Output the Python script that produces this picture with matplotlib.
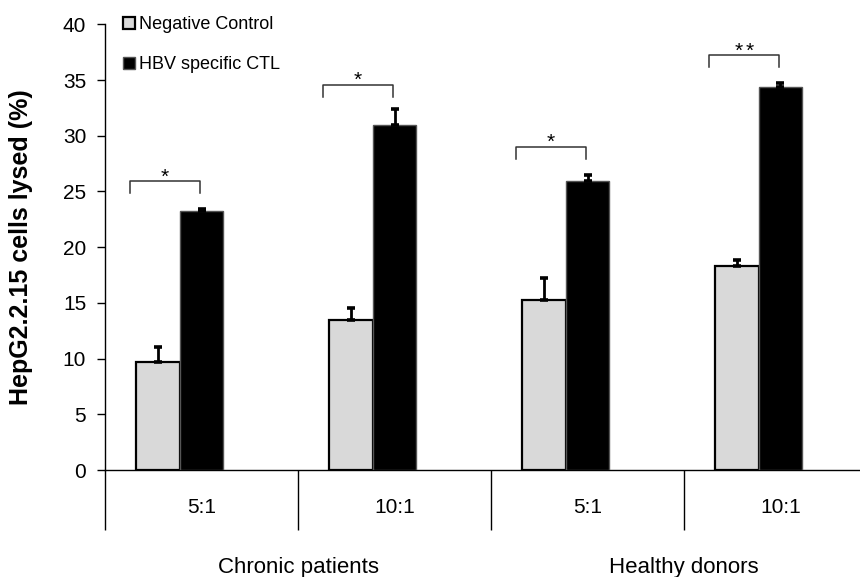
import numpy as np
import matplotlib
matplotlib.use("Agg")
import matplotlib.pyplot as plt

plt.rcParams['font.family'] = ['Liberation Sans', 'DejaVu Sans']

# data
ratios = ["5:1", "10:1", "5:1", "10:1"]
groups = ["Chronic patients", "Healthy donors"]
neg_ctrl = [9.7, 13.5, 15.3, 18.3]
neg_err = [1.35, 1.0, 1.9, 0.55]
ctl = [23.25, 31.0, 25.95, 34.4]
ctl_err = [0.2, 1.4, 0.55, 0.35]
sig_top = [25.9, 34.55, 29.0, 37.2]
sig_marks = ["*", "*", "*", "**"]

x = np.arange(len(ratios))
w = 0.225

fig = plt.figure(figsize=(8.6, 5.77), dpi=100)
ax = fig.add_axes([105/860, 107/577, 772/860, 445.7/577])

ax.bar(x - w, neg_ctrl, w, color="#d9d9d9", edgecolor="black", linewidth=1.6,
       label="Negative Control", zorder=2)
ax.bar(x, ctl, w, color="black", edgecolor="#555555", linewidth=1,
       label="HBV specific CTL", zorder=3)
ax.errorbar(x - w, neg_ctrl, yerr=[np.zeros(4), neg_err], fmt="none", ecolor="black",
            elinewidth=2, capsize=2.8, capthick=2.6, zorder=4)
ax.errorbar(x, ctl, yerr=[np.zeros(4), ctl_err], fmt="none", ecolor="black",
            elinewidth=2, capsize=2.8, capthick=2.6, zorder=4)

# significance brackets
for i in range(len(x)):
    x0, x1 = x[i] - 0.37, x[i] - 0.01
    top = sig_top[i]
    ax.plot([x0, x0, x1, x1], [top - 1.05, top, top, top - 1.05], color="#333333",
            lw=1.1, zorder=5)
    xm = (x0 + x1) / 2
    if sig_marks[i] == "**":
        for dx in (-0.028, 0.028):
            ax.text(xm + dx, top - 0.1, "*", ha="center", va="baseline", fontsize=15)
    else:
        ax.text(xm, top - 0.1, "*", ha="center", va="baseline", fontsize=15)

ax.set_xlim(-0.5, 3.5)
ax.set_ylim(0, 40)
ax.set_yticks(np.arange(0, 41, 5))
ax.tick_params(axis="y", direction="out", length=5.5, width=1, labelsize=15, pad=8)

# two-level category axis
ax.set_xticks([-0.5, 0.5, 1.5, 2.5, 3.5])
ax.set_xticklabels([])
ax.tick_params(axis="x", which="major", direction="out", length=43, width=1)
ax.set_xticks(x, ratios, minor=True)
ax.tick_params(axis="x", which="minor", length=0, labelsize=15, pad=20)
for gi, g in enumerate(groups):
    ax.text(0.5 + 2 * gi, -103 / 445.7, g, transform=ax.get_xaxis_transform(),
            ha="center", va="baseline", fontsize=16)

for s in ["top", "right"]:
    ax.spines[s].set_visible(False)
ax.spines["left"].set_linewidth(1)
ax.spines["bottom"].set_linewidth(1)

fig.text(21/860, 1 - 247.5/577, "HepG2.2.15 cells lysed (%)", rotation=90,
         ha="center", va="center", fontsize=18, fontweight="bold")

ax.legend(loc="upper left", bbox_to_anchor=(123/860, 1 - 16/577),
          bbox_transform=fig.transFigure, frameon=False, fontsize=13,
          handlelength=0.65, handleheight=0.65, handletextpad=0.25,
          labelspacing=1.3, borderpad=0, borderaxespad=0)

fig.savefig("out.png", dpi=100)
